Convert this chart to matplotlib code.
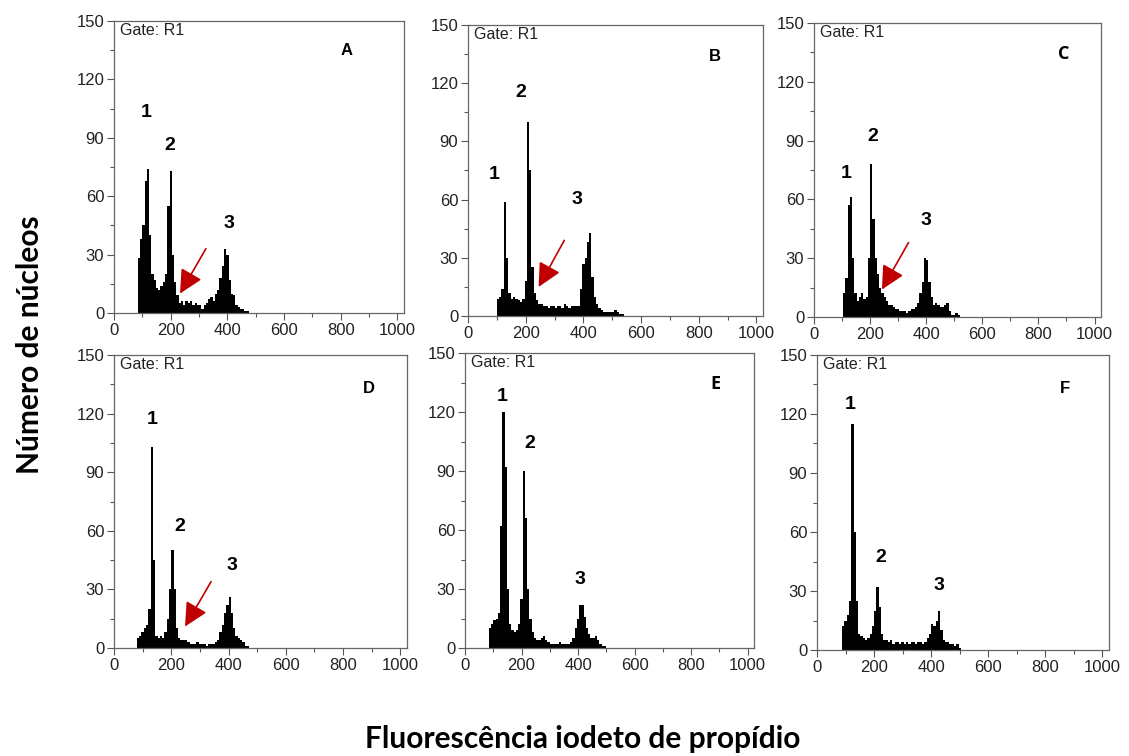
import numpy as np
import matplotlib
matplotlib.use("Agg")
import matplotlib.pyplot as plt
from matplotlib.ticker import MultipleLocator

# ── 데이터: 8채널 폭 히스토그램 (시작 채널 + 빈도) ─────────────────────
BIN_W = 8

start_a = 84
counts_a = [28, 38, 45, 68, 74, 40, 20, 17, 13, 12, 14, 16, 20, 55, 73, 30,
            16, 9, 5, 6, 4, 6, 5, 6, 4, 5, 4, 4, 2, 4, 5, 7, 8, 6, 10, 12,
            18, 24, 33, 30, 17, 10, 9, 4, 3, 2, 2, 1, 1]

start_b = 100
counts_b = [9, 10, 14, 59, 30, 12, 9, 10, 9, 8, 7, 9, 18, 100, 75, 25, 12,
            8, 6, 6, 5, 5, 4, 5, 5, 4, 5, 5, 4, 6, 5, 4, 5, 5, 5, 5, 14, 27,
            30, 38, 43, 20, 10, 6, 4, 3, 2, 2, 2, 2, 2, 3, 2, 1, 1]

start_c = 104
counts_c = [12, 20, 57, 61, 30, 12, 8, 10, 12, 9, 10, 30, 78, 50, 30, 22,
            15, 12, 10, 8, 6, 6, 5, 4, 4, 3, 3, 3, 2, 3, 4, 4, 5, 7, 12, 18,
            30, 29, 18, 10, 6, 7, 6, 5, 5, 6, 7, 3, 1, 1, 2, 1]

start_d = 80
counts_d = [5, 6, 8, 10, 12, 20, 103, 45, 6, 5, 6, 5, 8, 15, 30, 50, 30, 10,
            5, 4, 4, 4, 3, 2, 2, 2, 3, 2, 2, 2, 1, 2, 2, 2, 3, 4, 8, 12, 18,
            22, 26, 18, 10, 6, 5, 4, 3, 1, 1]

start_e = 84
counts_e = [10, 12, 14, 15, 18, 62, 120, 92, 30, 12, 9, 8, 9, 12, 25, 90,
            66, 30, 15, 8, 5, 4, 4, 5, 6, 4, 3, 2, 2, 2, 2, 3, 2, 2, 2, 2, 3,
            5, 10, 15, 22, 22, 16, 10, 7, 5, 5, 6, 4, 2, 1, 1]

start_f = 88
counts_f = [12, 15, 18, 25, 115, 60, 25, 8, 7, 6, 5, 6, 8, 12, 20, 32, 22,
            8, 5, 5, 4, 5, 3, 4, 4, 3, 4, 3, 4, 3, 4, 4, 3, 4, 4, 3, 4, 6, 8,
            13, 12, 15, 20, 10, 5, 4, 4, 3, 3, 2, 3, 1]

panel_letters = ["A", "B", "C", "D", "E", "F"]
starts = [start_a, start_b, start_c, start_d, start_e, start_f]
counts = [counts_a, counts_b, counts_c, counts_d, counts_e, counts_f]

# 피크 번호 위치 (채널, 빈도)
peak_labels = [
    [(113, 103), (198, 86), (404, 46)],
    [(91, 73), (182, 115), (378, 60)],
    [(114, 73), (210, 92), (400, 49)],
    [(132, 117), (230, 62), (413, 42)],
    [(130, 128), (230, 104), (407, 35)],
    [(117, 125), (224, 47), (426, 33)],
]
letter_pos = [(821, 135), (856, 134), (890, 134), (889, 133), (888, 134), (870, 133)]
# 빨간 화살표: (시작, 끝)
arrows = {
    0: ((324, 33), (233, 10)),
    1: ((334, 39), (245, 15)),
    2: ((337, 38), (242, 14)),
    3: ((339, 34), (248, 11)),
}

# ── 레이아웃 (픽셀 단위: left, top, right, bottom) ──────────────────────
W, H = 1129, 756
boxes = [
    (114, 21, 404, 313), (468, 25, 763, 316), (814, 23, 1101, 317),
    (114, 355, 407, 648), (465, 353, 754, 648), (817, 355, 1109, 650),
]

fig = plt.figure(figsize=(W / 100, H / 100), dpi=100)
tick_color = "#222222"

for i, (l, t, r, b) in enumerate(boxes):
    ax = fig.add_axes([l / W, 1 - b / H, (r - l) / W, (b - t) / H])
    edges = starts[i] + BIN_W * np.arange(len(counts[i]))
    ax.bar(edges, counts[i], width=BIN_W, align="edge", color="black", linewidth=0)

    ax.set_xlim(0, 1023)
    ax.set_ylim(0, 150)
    ax.xaxis.set_major_locator(MultipleLocator(200))
    ax.xaxis.set_minor_locator(MultipleLocator(100))
    ax.yaxis.set_major_locator(MultipleLocator(30))
    ax.yaxis.set_minor_locator(MultipleLocator(15))
    ax.tick_params(which="major", length=5, width=0.8, colors="#555555",
                   labelcolor=tick_color, labelsize=12, pad=2)
    ax.tick_params(which="minor", length=3, width=0.8, colors="#555555")
    for lab in ax.get_xticklabels() + ax.get_yticklabels():
        lab.set_family("Liberation Sans")
    for s in ax.spines.values():
        s.set_color("#666666")
        s.set_linewidth(0.9)

    ax.text(21, 145, "Gate: R1", family="Liberation Sans", fontsize=11.5,
            color=tick_color, ha="left", va="center")
    if panel_letters[i] in ("C", "E"):
        ax.text(*letter_pos[i], panel_letters[i], family="Open Sans",
                fontweight="bold", fontsize=13, ha="center", va="center")
    else:
        ax.text(*letter_pos[i], panel_letters[i], family="Liberation Sans",
                fontweight="bold", fontsize=12, ha="center", va="center")
    for k, (px, py) in enumerate(peak_labels[i]):
        ax.text(px, py, str(k + 1), family="Liberation Sans", fontweight="bold",
                fontsize=14, ha="center", va="center")
    if i in arrows:
        (x0, y0), (x1, y1) = arrows[i]
        ax.annotate("", xy=(x1, y1), xytext=(x0, y0),
                    arrowprops=dict(arrowstyle="-|>,head_length=0.9,head_width=0.45",
                                    color="#c00000", lw=1.2, mutation_scale=16,
                                    shrinkA=0, shrinkB=0))

fig.text(30 / W, 1 - 345 / H, "Número de núcleos", family="Lato", fontweight="bold",
         fontsize=21.5, rotation=90, ha="center", va="center")
fig.text(583 / W, 3 / H, "Fluorescência iodeto de propídio", family="Lato",
         fontweight="bold", fontsize=21.5, ha="center", va="bottom")

fig.savefig("out.png", dpi=100)
